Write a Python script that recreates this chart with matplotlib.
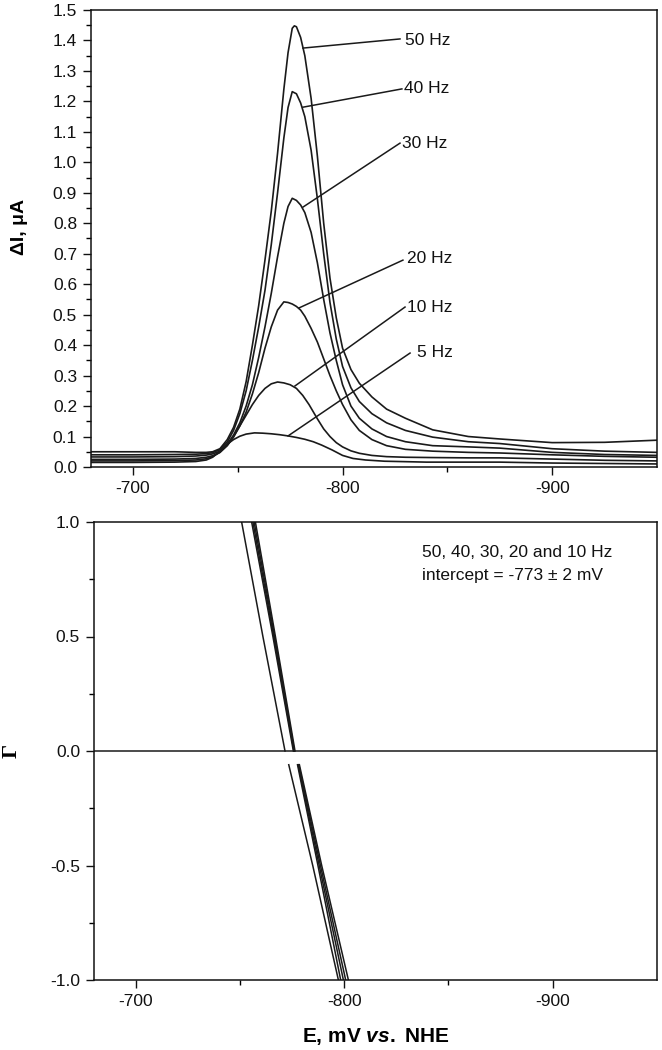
import numpy as np
import matplotlib
matplotlib.use("Agg")
import matplotlib.pyplot as plt
from matplotlib.ticker import FixedLocator, FormatStrFormatter

plt.rcParams['font.family'] = ['Liberation Sans', 'DejaVu Sans']
plt.rcParams['axes.unicode_minus'] = False
plt.rcParams['mathtext.fontset'] = 'custom'
plt.rcParams['mathtext.it'] = 'Liberation Sans:italic:bold'
plt.rcParams['mathtext.rm'] = 'Liberation Sans:bold'
plt.rcParams['mathtext.bf'] = 'Liberation Sans:bold'

# ---------------- data: top panel (SWV net current, uA vs E, mV) ----------------
E_50 = [-680, -700, -720, -730, -735, -738, -741.5, -745, -748, -751, -754, -757, -760,
        -763, -766, -769, -772, -774, -776, -777, -778, -780, -782, -785, -788, -791, -794,
        -797, -800, -804, -808, -814, -821, -830, -843, -860, -875, -900, -925, -950]
I_50 = [0.050, 0.050, 0.050, 0.048, 0.048, 0.050, 0.060, 0.090, 0.13, 0.19, 0.28, 0.40, 0.53,
        0.68, 0.84, 1.03, 1.24, 1.36, 1.44, 1.448, 1.445, 1.41, 1.35, 1.21, 1.02, 0.80, 0.62,
        0.49, 0.39, 0.32, 0.275, 0.23, 0.19, 0.16, 0.122, 0.100, 0.092, 0.080, 0.081, 0.088]

E_40 = [-680, -700, -720, -730, -735, -738, -741.5, -745, -748, -751, -754, -757, -760,
        -763, -766, -769, -772, -774, -776, -778, -780, -782, -785, -788, -791, -794,
        -797, -800, -804, -808, -814, -821, -830, -843, -860, -875, -900, -925, -950]
I_40 = [0.040, 0.040, 0.041, 0.042, 0.044, 0.047, 0.057, 0.082, 0.12, 0.175, 0.25, 0.35, 0.46,
        0.58, 0.73, 0.90, 1.08, 1.18, 1.232, 1.225, 1.195, 1.15, 1.04, 0.88, 0.70, 0.54,
        0.42, 0.33, 0.26, 0.215, 0.175, 0.145, 0.12, 0.098, 0.083, 0.077, 0.060, 0.052, 0.048]

E_30 = [-680, -700, -720, -730, -735, -738, -741.5, -745, -748, -751, -754, -757, -760,
        -763, -766, -769, -772, -774, -776, -778, -780, -782, -785, -788, -791, -794,
        -797, -800, -804, -808, -814, -821, -830, -843, -860, -875, -900, -925, -950]
I_30 = [0.033, 0.033, 0.034, 0.036, 0.039, 0.043, 0.052, 0.075, 0.105, 0.145, 0.20, 0.27, 0.36,
        0.46, 0.57, 0.69, 0.80, 0.855, 0.882, 0.875, 0.86, 0.835, 0.77, 0.67, 0.55, 0.44,
        0.35, 0.27, 0.20, 0.16, 0.125, 0.10, 0.083, 0.070, 0.066, 0.062, 0.048, 0.041, 0.038]

E_20 = [-680, -700, -720, -730, -735, -738, -741.5, -745, -748, -751, -754, -757, -760,
        -763, -766, -769, -772, -774, -776, -778, -780, -782, -785, -788, -791, -794,
        -797, -800, -804, -808, -814, -821, -830, -843, -860, -875, -900, -925, -950]
I_20 = [0.025, 0.025, 0.026, 0.028, 0.032, 0.037, 0.048, 0.070, 0.098, 0.135, 0.18, 0.24, 0.31,
        0.39, 0.46, 0.515, 0.542, 0.540, 0.535, 0.527, 0.515, 0.495, 0.455, 0.41, 0.355, 0.30,
        0.25, 0.205, 0.155, 0.12, 0.09, 0.07, 0.058, 0.052, 0.048, 0.046, 0.040, 0.035, 0.032]

E_10 = [-680, -700, -720, -730, -735, -738, -741.5, -745, -748, -751, -754, -757, -760,
        -763, -766, -769, -772, -775, -778, -781, -784, -788, -791, -794, -797, -800,
        -804, -808, -814, -821, -830, -843, -860, -875, -900, -925, -950]
I_10 = [0.020, 0.020, 0.021, 0.023, 0.027, 0.034, 0.048, 0.072, 0.10, 0.135, 0.17, 0.205, 0.235,
        0.258, 0.273, 0.279, 0.276, 0.270, 0.258, 0.235, 0.205, 0.158, 0.125, 0.10, 0.080, 0.066,
        0.053, 0.045, 0.038, 0.034, 0.032, 0.031, 0.030, 0.030, 0.026, 0.022, 0.020]

E_5 = [-680, -700, -720, -730, -735, -738, -741.5, -745, -748, -751, -754, -758, -762,
       -766, -770, -774, -778, -782, -786, -790, -795, -800, -805, -811, -820, -840,
       -875, -900, -950]
I_5 = [0.015, 0.015, 0.016, 0.018, 0.023, 0.032, 0.052, 0.075, 0.090, 0.101, 0.108, 0.112, 0.111,
       0.109, 0.106, 0.102, 0.097, 0.091, 0.083, 0.072, 0.056, 0.038, 0.028, 0.023, 0.019, 0.016,
       0.016, 0.013, 0.010]

freq_labels = ["50 Hz", "40 Hz", "30 Hz", "20 Hz", "10 Hz", "5 Hz"]
# annotation leader lines: from a point on the curve to the label
lead_E0 = [-781.1, -781.1, -781.1, -779.2, -777.3, -774.0]
lead_I0 = [1.375, 1.181, 0.853, 0.522, 0.266, 0.102]
lead_E1 = [-827.4, -828.3, -827.4, -828.8, -829.8, -832.2]
lead_I1 = [1.405, 1.241, 1.063, 0.679, 0.525, 0.374]
label_E = [-829.8, -829.3, -828.4, -830.7, -830.7, -835.5]
label_I = [1.401, 1.241, 1.063, 0.683, 0.525, 0.377]

# ---------------- data: bottom panel (Gamma vs E) ----------------
gamma_upper = [1.0, 0.5, 0.0]
gamma_lower = [-0.06, -0.5, -1.0]
E_upper = [[-750.8, -761.0, -771.6],
           [-755.6, -765.8, -775.6],
           [-756.2, -766.2, -775.9],
           [-756.8, -766.6, -776.1],
           [-757.4, -767.0, -776.4]]
E_lower = [[-773.4, -784.9, -797.2],
           [-777.6, -787.4, -798.3],
           [-777.9, -788.0, -799.6],
           [-778.2, -788.6, -800.7],
           [-778.5, -789.2, -802.0]]
note_lines = ["50, 40, 30, 20 and 10 Hz", "intercept = -773 \u00b1 2 mV"]

# ---------------- figure ----------------
fig = plt.figure(figsize=(6.62, 10.5), dpi=100)
ax1 = fig.add_axes([91/662, 1-467/1050, 566/662, 457/1050])
ax2 = fig.add_axes([94/662, 1-980/1050, 563/662, 458/1050])

lc = '#1a1a1a'
for xs, ys in [(E_50, I_50), (E_40, I_40), (E_30, I_30),
               (E_20, I_20), (E_10, I_10), (E_5, I_5)]:
    ax1.plot(xs, ys, color=lc, lw=1.2, solid_joinstyle='round')

for e0, i0, e1, i1, te, ti, lab in zip(lead_E0, lead_I0, lead_E1, lead_I1,
                                       label_E, label_I, freq_labels):
    ax1.plot([e0, e1], [i0, i1], color=lc, lw=1.1)
    ax1.text(te, ti, lab, ha='left', va='center', fontsize=12.5, color='#111')

ax1.set_xlim(-680, -950)
ax1.set_ylim(0, 1.5)
ax1.yaxis.set_major_locator(FixedLocator(np.round(np.arange(0, 1.51, 0.1), 2)))
ax1.yaxis.set_minor_locator(FixedLocator(np.round(np.arange(0.05, 1.5, 0.1), 2)))
ax1.yaxis.set_major_formatter(FormatStrFormatter('%.1f'))
ax1.set_ylabel("\u0394I, \u03bcA", fontsize=14, fontweight='bold')
ax1.yaxis.set_label_coords(-0.112, 0.525)

for ax in (ax1, ax2):
    ax.xaxis.set_major_locator(FixedLocator([-700, -800, -900]))
    ax.xaxis.set_minor_locator(FixedLocator([-750, -850]))
    ax.xaxis.set_major_formatter(FormatStrFormatter('%d'))
    ax.tick_params(which='major', direction='out', length=6, width=1.0,
                   labelsize=12.5, pad=4, colors='#111')
    ax.tick_params(which='minor', direction='out', length=3.5, width=1.0)
    ax.tick_params(top=False, right=False, which='both')
    for s in ax.spines.values():
        s.set_linewidth(1.1)
        s.set_color('#111')

for xs_u, xs_l in zip(E_upper, E_lower):
    ax2.plot(xs_u, gamma_upper, color=lc, lw=1.1)
    ax2.plot(xs_l, gamma_lower, color=lc, lw=1.1)
ax2.axhline(0, color=lc, lw=1.1)
ax2.set_xlim(-680, -950)
ax2.set_ylim(-1, 1)
ax2.yaxis.set_major_locator(FixedLocator([-1, -0.5, 0, 0.5, 1]))
ax2.yaxis.set_minor_locator(FixedLocator([-0.75, -0.25, 0.25, 0.75]))
ax2.yaxis.set_major_formatter(FormatStrFormatter('%.1f'))
ax2.set_ylabel("\u0393", fontsize=16, fontweight='bold', family='Liberation Serif')
ax2.yaxis.set_label_coords(-0.128, 0.5)
ax2.set_xlabel("E, mV $\\mathit{vs.}$ NHE", fontsize=15, fontweight='bold')
ax2.xaxis.set_label_coords(0.5, -0.1)
ax2.text(0.583, 0.934, note_lines[0], transform=ax2.transAxes, ha='left',
         va='center', fontsize=12.5, color='#111')
ax2.text(0.583, 0.884, note_lines[1], transform=ax2.transAxes, ha='left',
         va='center', fontsize=12.5, color='#111')

fig.savefig("out.png", dpi=100)
